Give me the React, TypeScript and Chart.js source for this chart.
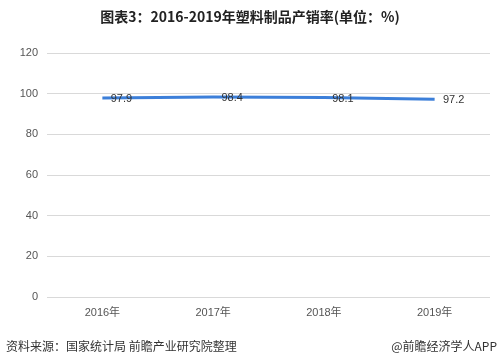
import React, { useEffect, useRef } from "react";
import { Chart, registerables } from "chart.js";

Chart.register(...registerables);

const categories = ["2016年", "2017年", "2018年", "2019年"];
const values = [97.9, 98.4, 98.1, 97.2];
const titleText = "图表3：2016-2019年塑料制品产销率(单位：%)";
const sourceText = "资料来源：国家统计局 前瞻产业研究院整理";
const brandText = "@前瞻经济学人APP";

const FONT = "'Liberation Sans', 'Noto Sans CJK SC', sans-serif";

const textPlugin = {
  id: "textPlugin",
  afterDraw(chart: any) {
    const ctx = chart.ctx;
    ctx.save();
    ctx.fillStyle = "#222";
    ctx.font = "bold 14px 'Noto Sans CJK SC', sans-serif";
    ctx.textAlign = "center";
    ctx.textBaseline = "middle";
    ctx.fillText(titleText, 250, 17);
    ctx.font = "12px 'Noto Sans CJK SC', sans-serif";
    ctx.fillStyle = "#333";
    ctx.textAlign = "left";
    ctx.fillText(sourceText, 6, 346);
    ctx.textAlign = "right";
    ctx.fillText(brandText, 497, 346);
    // data labels
    const meta = chart.getDatasetMeta(0);
    ctx.font = "11px " + FONT;
    ctx.fillStyle = "#333";
    ctx.textAlign = "center";
    meta.data.forEach((pt: any, i: number) => {
      ctx.fillText(String(values[i]), pt.x + 19, pt.y + 1);
    });
    ctx.restore();
  },
};

export default function App() {
  const ref = useRef<HTMLCanvasElement | null>(null);
  useEffect(() => {
    if (!ref.current) return;
    const chart = new Chart(ref.current, {
      type: "line",
      data: {
        labels: categories,
        datasets: [
          {
            data: values,
            borderColor: "#3c7fd9",
            borderWidth: 3,
            pointRadius: 0,
            fill: false,
            tension: 0,
          },
        ],
      },
      options: {
        animation: false,
        responsive: false,
        layout: { padding: { left: 0, right: 10, top: 53, bottom: 0 } },
        plugins: {
          legend: { display: false },
          title: { display: false },
          tooltip: { enabled: false },
        },
        scales: {
          x: {
            offset: true,
            grid: { display: false, drawTicks: false },
            border: { display: false },
            ticks: { color: "#555", font: { size: 11, family: FONT }, padding: 9 },
            afterFit: (s: any) => {
              s.height = 67;
            },
          },
          y: {
            min: 0,
            max: 120,
            ticks: { stepSize: 20, color: "#555", font: { size: 11, family: FONT }, padding: 9 },
            grid: { color: "#d9d9d9", drawTicks: false },
            border: { display: false },
            afterFit: (s: any) => {
              s.width = 47;
            },
          },
        },
      },
      plugins: [textPlugin],
    });
    return () => chart.destroy();
  }, []);
  return (
    <div style={{ position: "fixed", left: 0, top: 0, width: 500, height: 364, background: "#fff" }}>
      <canvas ref={ref} width={500} height={364} style={{ width: 500, height: 364 }} />
    </div>
  );
}
